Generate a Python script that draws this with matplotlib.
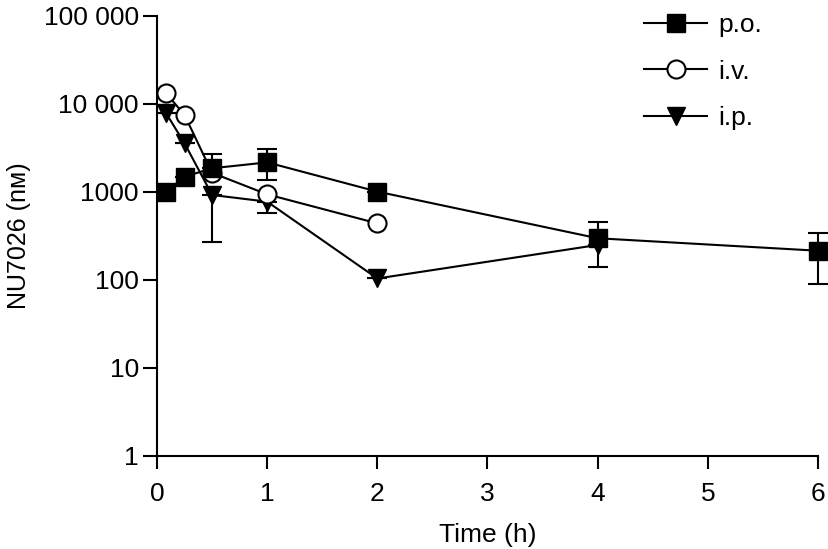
import numpy as np
import matplotlib.pyplot as plt

plt.rcParams['font.family'] = ['Liberation Sans', 'DejaVu Sans']

# p.o.
po_t = [0.083, 0.25, 0.5, 1, 2, 4, 6]
po_c = [1000, 1490, 1860, 2170, 1010, 298, 215]
po_lo = [1000, 1490, 1860, 1370, 1010, 142, 90]
po_hi = [1000, 1490, 2680, 3050, 1010, 453, 345]

# i.v.
iv_t = [0.083, 0.25, 0.5, 1, 2]
iv_c = [13200, 7500, 1650, 940, 440]

# i.p.
ip_t = [0.083, 0.25, 0.5, 1, 2, 4]
ip_c = [7830, 3570, 925, 776, 104, 250]
ip_lo = [7830, 3570, 272, 573, 104, 250]
ip_hi = [7830, 3570, 925, 776, 104, 250]

yticks = [1, 10, 100, 1000, 10000, 100000]
ylabels = ['1', '10', '100', '1000', '10 000', '100 000']

fig = plt.figure(figsize=(8.29, 5.49), dpi=100)
ax = fig.add_axes([0.1894, 0.1694, 0.7973, 0.8015])

lw = 1.5
ekw = dict(fmt='none', ecolor='black', elinewidth=lw, capsize=7, capthick=lw, clip_on=False)

# i.p.
ax.errorbar(ip_t, ip_c, yerr=[np.array(ip_c) - np.array(ip_lo), np.array(ip_hi) - np.array(ip_c)], zorder=2, **ekw)
l3, = ax.plot(ip_t, ip_c, color='black', lw=lw, marker='v', ms=13, mfc='black', mec='black',
              label='i.p.', clip_on=False, zorder=3)
# i.v.
l2, = ax.plot(iv_t, iv_c, color='black', lw=lw, marker='o', ms=13, mfc='white', mec='black', mew=1.5,
              label='i.v.', clip_on=False, zorder=4)
# p.o.
ax.errorbar(po_t, po_c, yerr=[np.array(po_c) - np.array(po_lo), np.array(po_hi) - np.array(po_c)], zorder=5, **ekw)
l1, = ax.plot(po_t, po_c, color='black', lw=lw, marker='s', ms=13, mfc='black', mec='black',
              label='p.o.', clip_on=False, zorder=6)

ax.set_yscale('log')
ax.set_ylim(1, 100000)
ax.set_xlim(0, 6)
ax.set_yticks(yticks)
ax.set_yticklabels(ylabels)
ax.yaxis.set_minor_locator(plt.NullLocator())
ax.set_xticks(range(7))

for s in ['top', 'right']:
    ax.spines[s].set_visible(False)
for s in ['left', 'bottom']:
    ax.spines[s].set_linewidth(1.5)

ax.tick_params(axis='y', length=10, width=1.5, labelsize=19, pad=3)
ax.tick_params(axis='x', length=9, width=1.5, labelsize=19, pad=10)

ax.set_xlabel('Time (h)', fontsize=19, labelpad=12)
ax.set_ylabel('NU7026 (nᴍ)', fontsize=18, labelpad=9)

ax.legend(handles=[l1, l2, l3], loc='upper left', bbox_to_anchor=(0.721, 1.031), frameon=False,
          fontsize=19, handlelength=2.4, labelspacing=0.86, handletextpad=0.4, numpoints=1,
          borderaxespad=0)

fig.savefig('out.png', dpi=100)
